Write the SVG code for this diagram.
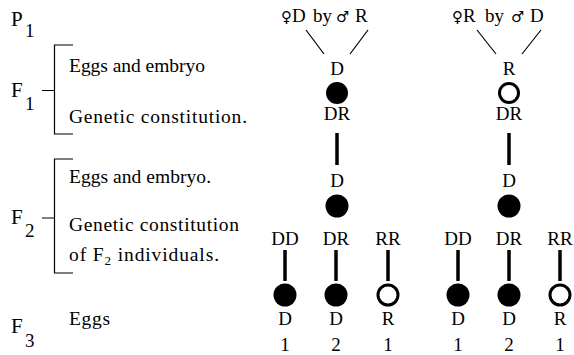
<svg xmlns="http://www.w3.org/2000/svg" width="574" height="355" viewBox="0 0 574 355">
<style>
.c{text-anchor:middle}
.br{fill:none;stroke:#000;stroke-width:1.2}
.thin{stroke:#000;stroke-width:1.2}
.thick{stroke:#000;stroke-width:3.5}
.dom{fill:#000}
.rec{fill:#fff;stroke:#000;stroke-width:3}
</style>
<g id="labels">
<text font-family="Liberation Serif" font-size="21" x="11" y="26">P</text><text font-family="Liberation Serif" font-size="19" x="25" y="37">1</text>
<text font-family="Liberation Serif" font-size="21" x="11" y="97">F</text><text font-family="Liberation Serif" font-size="19" x="25" y="110">1</text>
<text font-family="Liberation Serif" font-size="21" x="11" y="224">F</text><text font-family="Liberation Serif" font-size="19" x="25" y="237">2</text>
<text font-family="Liberation Serif" font-size="21" x="11" y="333">F</text><text font-family="Liberation Serif" font-size="19" x="25" y="347">3</text>
</g>
<g id="brackets">
<path class="br" d="M73 45H54.5V134H73M42 90.5H54.5"/>
<path class="br" d="M73 159H54.5V273H73M42 218H54.5"/>
<text font-family="Liberation Serif" font-size="19.5" x="69" y="72" textLength="136" lengthAdjust="spacing">Eggs and embryo</text>
<text font-family="Liberation Serif" font-size="19.5" x="69" y="123" textLength="178" lengthAdjust="spacing">Genetic constitution.</text>
<text font-family="Liberation Serif" font-size="19.5" x="69" y="183" textLength="142" lengthAdjust="spacing">Eggs and embryo.</text>
<text font-family="Liberation Serif" font-size="19.5" x="69" y="231" textLength="170" lengthAdjust="spacing">Genetic constitution</text>
<text font-family="Liberation Serif" font-size="19.5" x="69" y="261" textLength="150" lengthAdjust="spacing">of F<tspan font-size="13" dy="4">2</tspan><tspan dy="-4"> individuals.</tspan></text>
<text font-family="Liberation Serif" font-size="19.5" x="69" y="325" textLength="41" lengthAdjust="spacing">Eggs</text>
</g>
<g id="cross-left">
<text font-family="DejaVu Sans" font-size="15" x="281" y="22">♀</text><text font-family="Liberation Serif" font-size="19" x="292" y="22">D</text><text font-family="Liberation Serif" font-size="19" x="313" y="22">by</text><text font-family="DejaVu Sans" font-size="15" x="336" y="22">♂</text><text font-family="Liberation Serif" font-size="19" x="355" y="22">R</text>
</g>
<g id="cross-right">
<text font-family="DejaVu Sans" font-size="15" x="452" y="22">♀</text><text font-family="Liberation Serif" font-size="19" x="463" y="22">R</text><text font-family="Liberation Serif" font-size="19" x="485" y="22">by</text><text font-family="DejaVu Sans" font-size="15" x="511" y="22">♂</text><text font-family="Liberation Serif" font-size="19" x="530" y="22">D</text>
</g>
<g id="connectors">
<line class="thin" x1="306" y1="30" x2="324" y2="54"/>
<line class="thin" x1="368" y1="30" x2="350" y2="54"/>
<line class="thin" x1="477" y1="30" x2="496" y2="54"/>
<line class="thin" x1="541" y1="30" x2="522" y2="54"/>
<line class="thick" x1="337" y1="133" x2="337" y2="165"/>
<line class="thick" x1="509" y1="133" x2="509" y2="165"/>
<line class="thick" x1="285" y1="250" x2="285" y2="281"/>
<line class="thick" x1="336" y1="250" x2="336" y2="281"/>
<line class="thick" x1="388" y1="250" x2="388" y2="281"/>
<line class="thick" x1="458" y1="250" x2="458" y2="281"/>
<line class="thick" x1="509" y1="250" x2="509" y2="281"/>
<line class="thick" x1="560" y1="250" x2="560" y2="281"/>
</g>
<g id="f1-left">
<text class="c" font-family="Liberation Serif" font-size="19" x="337" y="75">D</text>
<circle class="dom" cx="337" cy="93" r="11"/>
<text class="c" font-family="Liberation Serif" font-size="19" x="337" y="120">DR</text>
</g>
<g id="f1-right">
<text class="c" font-family="Liberation Serif" font-size="19" x="509" y="75">R</text>
<circle class="rec" cx="509" cy="93" r="9.5"/>
<text class="c" font-family="Liberation Serif" font-size="19" x="509" y="120">DR</text>
</g>
<g id="f2-left">
<text class="c" font-family="Liberation Serif" font-size="19" x="337" y="187">D</text>
<circle class="dom" cx="337" cy="206" r="11.5"/>
</g>
<g id="f2-right">
<text class="c" font-family="Liberation Serif" font-size="19" x="509" y="187">D</text>
<circle class="dom" cx="509" cy="206" r="11.5"/>
</g>
<g id="f3-left-dd"><text class="c" font-family="Liberation Serif" font-size="19" x="285" y="245">DD</text><circle class="dom" cx="285" cy="295" r="11.5"/><text class="c" font-family="Liberation Serif" font-size="19" x="285" y="325">D</text><text class="c" font-family="Liberation Serif" font-size="19" x="285" y="351">1</text></g>
<g id="f3-left-dr"><text class="c" font-family="Liberation Serif" font-size="19" x="336" y="245">DR</text><circle class="dom" cx="336" cy="295" r="11.5"/><text class="c" font-family="Liberation Serif" font-size="19" x="336" y="325">D</text><text class="c" font-family="Liberation Serif" font-size="19" x="336" y="351">2</text></g>
<g id="f3-left-rr"><text class="c" font-family="Liberation Serif" font-size="19" x="388" y="245">RR</text><circle class="rec" cx="388" cy="295" r="10"/><text class="c" font-family="Liberation Serif" font-size="19" x="388" y="325">R</text><text class="c" font-family="Liberation Serif" font-size="19" x="388" y="351">1</text></g>
<g id="f3-right-dd"><text class="c" font-family="Liberation Serif" font-size="19" x="458" y="245">DD</text><circle class="dom" cx="458" cy="295" r="11.5"/><text class="c" font-family="Liberation Serif" font-size="19" x="458" y="325">D</text><text class="c" font-family="Liberation Serif" font-size="19" x="458" y="351">1</text></g>
<g id="f3-right-dr"><text class="c" font-family="Liberation Serif" font-size="19" x="509" y="245">DR</text><circle class="dom" cx="509" cy="295" r="11.5"/><text class="c" font-family="Liberation Serif" font-size="19" x="509" y="325">D</text><text class="c" font-family="Liberation Serif" font-size="19" x="509" y="351">2</text></g>
<g id="f3-right-rr"><text class="c" font-family="Liberation Serif" font-size="19" x="560" y="245">RR</text><circle class="rec" cx="560" cy="295" r="10"/><text class="c" font-family="Liberation Serif" font-size="19" x="560" y="325">R</text><text class="c" font-family="Liberation Serif" font-size="19" x="560" y="351">1</text></g>
</svg>
